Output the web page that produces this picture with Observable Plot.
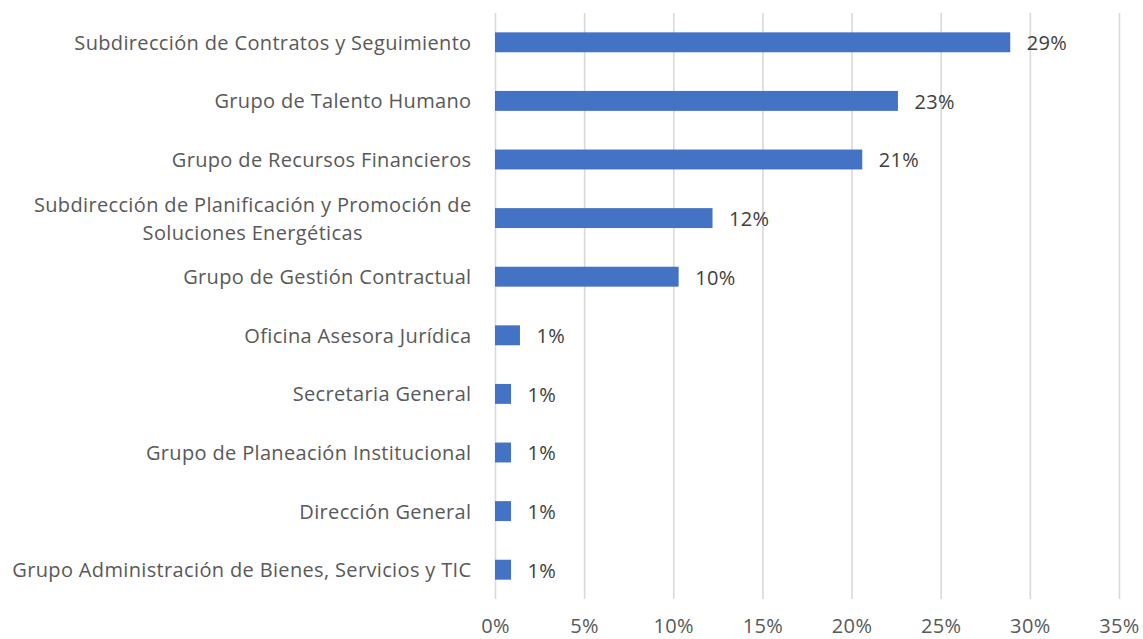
<!DOCTYPE html>
<html>
<head>
<meta charset="utf-8">
<script src="https://cdn.jsdelivr.net/npm/d3@7"></script>
<script src="https://cdn.jsdelivr.net/npm/@observablehq/plot@0.6"></script>
<style>
  html, body { margin: 0; padding: 0; background: #fff; }
  svg text { letter-spacing: 0.35px; }
</style>
</head>
<body>
<div id="chart"></div>
<script>
const categories = [
  "Subdirección de Contratos y Seguimiento",
  "Grupo de Talento Humano",
  "Grupo de Recursos Financieros",
  "Subdirección de Planificación y Promoción de\nSoluciones Energéticas",
  "Grupo de Gestión Contractual",
  "Oficina Asesora Jurídica",
  "Secretaria General",
  "Grupo de Planeación Institucional",
  "Dirección General",
  "Grupo Administración de Bienes, Servicios y TIC"
];
const values = [28.9, 22.6, 20.6, 12.2, 10.3, 1.4, 0.9, 0.9, 0.9, 0.9];
const valueLabels = ["29%", "23%", "21%", "12%", "10%", "1%", "1%", "1%", "1%", "1%"];
const xTicks = [0, 5, 10, 15, 20, 25, 30, 35];

const data = categories.map((c, i) => ({category: c, value: values[i], label: valueLabels[i]}));

const chart = Plot.plot({
  width: 1143,
  height: 639,
  marginTop: 13,
  marginBottom: 40,
  marginLeft: 495,
  marginRight: 24,
  style: {fontFamily: "'Open Sans', sans-serif", fontSize: "20px", color: "#595959", background: "#fff"},
  x: {domain: [0, 35], ticks: xTicks, tickFormat: d => d + "%", label: null},
  y: {domain: categories, paddingInner: 0.66, paddingOuter: 0.33, round: false, label: null},
  marks: [
    Plot.gridX(xTicks, {stroke: "#d9d9d9", strokeOpacity: 1, strokeWidth: 1.6}),
    Plot.axisX({ticks: xTicks, tickFormat: d => d + "%", tickSize: 0, tickPadding: 19, label: null, fill: "#595959"}),
    Plot.axisY({tickSize: 0, tickPadding: 24, dy: -2, label: null, fill: "#595959", lineHeight: 1.4}),
    Plot.barX(data, {x: "value", y: "category", fill: "#4472C4"}),
    Plot.text(data, {x: "value", y: "category", text: "label", textAnchor: "start", dx: 16, dy: 1, fill: "#404040", fontSize: 20})
  ]
});

document.getElementById("chart").appendChild(chart);

// center the lines of the wrapped y-axis label, like the original
chart.querySelectorAll("text").forEach(t => {
  const spans = t.querySelectorAll("tspan");
  if (spans.length > 1) {
    const w = spans[0].getComputedTextLength();
    t.setAttribute("text-anchor", "middle");
    spans.forEach(s => s.setAttribute("x", -w / 2));
  }
});
</script>
</body>
</html>
